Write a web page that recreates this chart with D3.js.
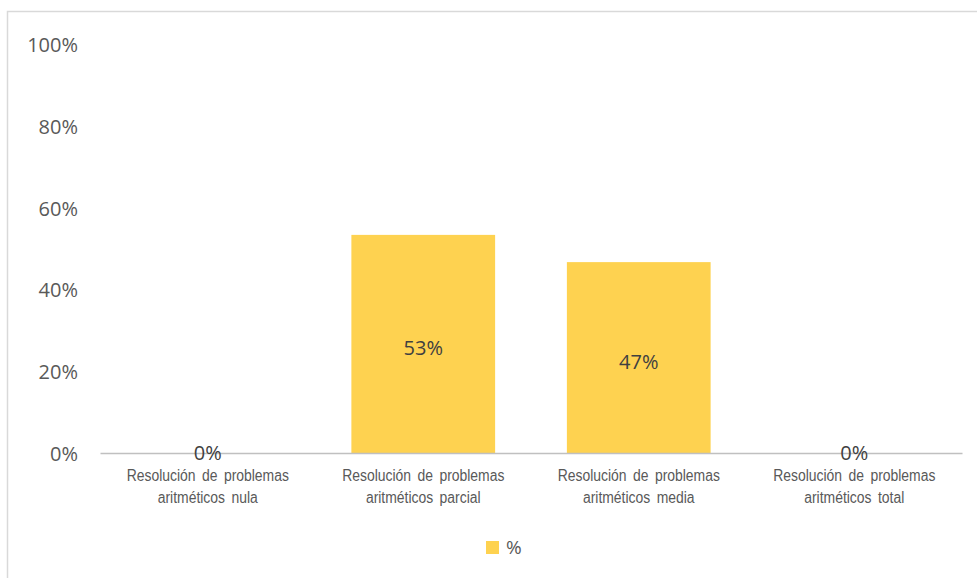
<!DOCTYPE html>
<html>
<head>
<meta charset="utf-8">
<script src="https://cdn.jsdelivr.net/npm/d3@7"></script>
<style>
  html, body { margin: 0; padding: 0; background: #fff; }
  svg { display: block; }
</style>
</head>
<body>
<svg id="chart" width="977" height="578"></svg>
<script>
// Category labels (two lines each) and the share of each level
const categoryLine1 = [
  "Resolución de problemas",
  "Resolución de problemas",
  "Resolución de problemas",
  "Resolución de problemas"
];
const categoryLine2 = [
  "aritméticos nula",
  "aritméticos parcial",
  "aritméticos media",
  "aritméticos total"
];
const shares = [0, 0.5333, 0.4667, 0];
const yTicks = [0, 0.2, 0.4, 0.6, 0.8, 1.0];
const seriesName = "%";

const categories = categoryLine2.map((d, i) => categoryLine1[i] + " " + d);
const data = categories.map((c, i) => ({ cat: c, l1: categoryLine1[i], l2: categoryLine2[i], v: shares[i] }));

const svg = d3.select("#chart");
const barColor = "#FED250";
const textColor = "#595959";
const bodyFont = "'Open Sans', 'Noto Sans', sans-serif";

// chart area frame
svg.append("rect")
  .attr("x", 7.5).attr("y", 11.5)
  .attr("width", 1000).attr("height", 600)
  .attr("fill", "#fff")
  .attr("stroke", "#d9d9d9")
  .attr("stroke-width", 1.5);

const plot = { left: 100, right: 962, top: 44, bottom: 453 };

const x = d3.scaleBand()
  .domain(categories)
  .range([plot.left, plot.right])
  .paddingInner(0.333)
  .paddingOuter(0.1665);

const y = d3.scaleLinear()
  .domain([0, 1])
  .range([plot.bottom, plot.top]);

// y axis labels (no axis line, no gridlines)
const yAxis = d3.axisLeft(y)
  .tickValues(yTicks)
  .tickFormat(d3.format(".0%"))
  .tickSize(0)
  .tickPadding(0);

const yg = svg.append("g")
  .attr("transform", "translate(78,1)")
  .call(yAxis);
yg.select(".domain").remove();
yg.selectAll("text")
  .attr("font-family", bodyFont)
  .attr("font-size", 20)
  .attr("fill", textColor)
  .attr("dy", "0.32em");

// bars
svg.append("g")
  .selectAll("rect")
  .data(data)
  .join("rect")
  .attr("x", d => x(d.cat))
  .attr("y", d => y(d.v))
  .attr("width", x.bandwidth())
  .attr("height", d => y(0) - y(d.v))
  .attr("fill", barColor);

// category axis line
const xAxis = d3.axisBottom(x).tickSize(0).tickFormat("");
const xg = svg.append("g")
  .attr("transform", `translate(0,${plot.bottom})`)
  .call(xAxis);
xg.select(".domain")
  .attr("stroke", "#c0c0c0")
  .attr("stroke-width", 1.5);

// category labels, condensed horizontally
const labels = svg.append("g")
  .attr("font-family", "'Liberation Sans', Arial, sans-serif")
  .attr("font-size", 16)
  .attr("fill", textColor)
  .attr("text-anchor", "middle");
[["l1", 481, d => d.l1], ["l2", 503, d => d.l2]].forEach(([cls, ty, txt]) => {
  labels.selectAll("text." + cls)
    .data(data)
    .join("text")
    .attr("class", cls)
    .attr("transform", d => `translate(${x(d.cat) + x.bandwidth() / 2},${ty}) scale(0.87,1)`)
    .attr("word-spacing", 3)
    .text(txt);
});

// data labels: centred inside bars, or sitting on the axis for zero values
svg.append("g")
  .selectAll("text")
  .data(data)
  .join("text")
  .attr("x", d => x(d.cat) + x.bandwidth() / 2)
  .attr("y", d => d.v > 0 ? (y(d.v) + y(0)) / 2 + 4 : y(0))
  .attr("dy", "0.35em")
  .attr("text-anchor", "middle")
  .attr("font-family", bodyFont)
  .attr("font-size", 20)
  .attr("fill", "#404040")
  .text(d => d3.format(".0%")(d.v));

// legend
const legend = svg.append("g").attr("transform", "translate(486,541)");
legend.append("rect")
  .attr("width", 13).attr("height", 13)
  .attr("fill", barColor);
legend.append("text")
  .attr("x", 20).attr("y", 6.5)
  .attr("dy", "0.35em")
  .attr("font-family", bodyFont)
  .attr("font-size", 19)
  .attr("fill", textColor)
  .text(seriesName);
</script>
</body>
</html>
